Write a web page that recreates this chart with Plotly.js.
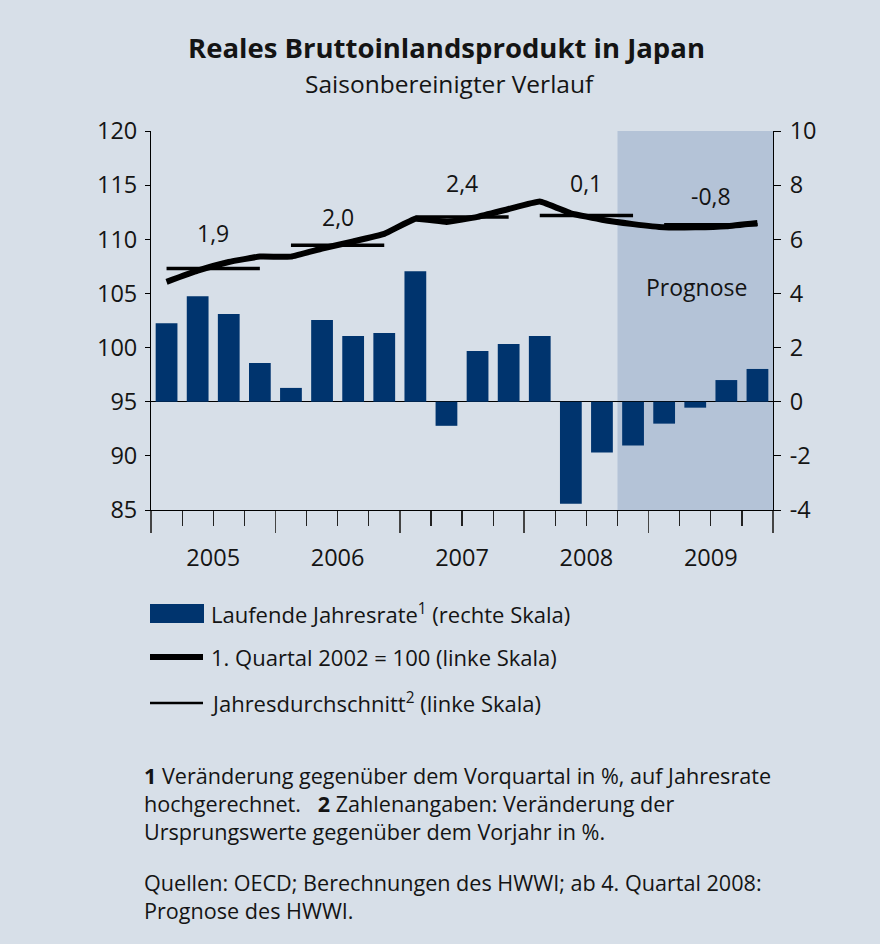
<!DOCTYPE html>
<html>
<head>
<meta charset="utf-8">
<script src="https://cdn.plot.ly/plotly-3.0.1.min.js"></script>
<style>html,body{margin:0;padding:0;background:#d7dfe8;}#chart{width:880px;height:944px;}</style>
</head>
<body>
<div id="chart"></div>
<script>
// ---- data ----
const years = ['2005', '2006', '2007', '2008', '2009'];
const quarterLabels = ['I/05','II/05','III/05','IV/05','I/06','II/06','III/06','IV/06',
  'I/07','II/07','III/07','IV/07','I/08','II/08','III/08','IV/08','I/09','II/09','III/09','IV/09'];
const annualRate = [2.9, 3.9, 3.24, 1.43, 0.51, 3.02, 2.43, 2.54, 4.82, -0.89,
  1.87, 2.13, 2.43, -3.77, -1.88, -1.62, -0.81, -0.22, 0.80, 1.21];
const indexLevel = [106.07, 107.1, 107.9, 108.4, 108.4, 109.15, 109.8, 110.5, 111.9, 111.6,
  112.07, 112.8, 113.5, 112.4, 111.8, 111.4, 111.1, 111.1, 111.2, 111.5];
const yearAverage = [107.3, 109.45, 112.05, 112.2, 111.35];
const yearGrowthLabels = ['1,9', '2,0', '2,4', '0,1', '-0,8'];
const yearLabelLevel = [110.6, 112.1, 115.2, 115.2, 114.0];
const rightTicks = [-4, -2, 0, 2, 4, 6, 8, 10];
const leftTicks = [85, 90, 95, 100, 105, 110, 115, 120];
const forecastStart = 15; // index of first forecast quarter (IV/2008)

// ---- helpers ----
const PL = 151, PR = 773, PT = 131, PB = 510;
const px = x => (x - PL) / (PR - PL);
const py = y => (PB - y) / (PB - PT);
const qx = quarterLabels.map((_, i) => i);
const FONT = 'Open Sans, Noto Sans, sans-serif';
const TXT = '#141414';

// ---- traces ----
const traces = [];
traces.push({
  type: 'bar', x: qx, y: annualRate, xaxis: 'x', yaxis: 'y',
  marker: {color: '#00346e'}, width: 0.7, hoverinfo: 'y', showlegend: false
});
const avgX = [], avgY = [];
years.forEach((yr, k) => {
  avgX.push(4 * k, 4 * k + 3, null);
  avgY.push(yearAverage[k], yearAverage[k], null);
});
traces.push({
  type: 'scatter', mode: 'lines', x: avgX, y: avgY, xaxis: 'x2', yaxis: 'y2',
  line: {color: '#000', width: 3.5}, connectgaps: false, showlegend: false
});
traces.push({
  type: 'scatter', mode: 'lines', x: qx, y: indexLevel, xaxis: 'x2', yaxis: 'y2',
  line: {color: '#000', width: 6, shape: 'spline', smoothing: 0.3}, showlegend: false
});

// ---- annotations ----
const ann = [];
years.forEach((yr, k) => {
  ann.push({xref: 'x2', yref: 'y2', x: 4 * k + 1.5, y: yearLabelLevel[k], text: yearGrowthLabels[k],
    showarrow: false, yanchor: 'middle', font: {family: FONT, size: 23, color: TXT}});
});
ann.push({xref: 'x2', yref: 'y2', x: 17.05, y: 105.6, text: 'Prognose', showarrow: false, yanchor: 'middle',
  font: {family: FONT, size: 23, color: TXT}});
ann.push({xref: 'paper', yref: 'paper', x: px(446), y: py(47), yanchor: 'middle',
  text: '<b>Reales Bruttoinlandsprodukt in Japan</b>',
  showarrow: false, font: {family: FONT, size: 27.5, color: TXT}});
ann.push({xref: 'paper', yref: 'paper', x: px(450), y: py(84), yanchor: 'middle', text: 'Saisonbereinigter Verlauf',
  showarrow: false, font: {family: FONT, size: 24.5, color: TXT}});
// legend
const legendItems = [
  {y: 613, text: 'Laufende Jahresrate<sup>1</sup> (rechte Skala)'},
  {y: 657, text: '1. Quartal 2002 = 100 (linke Skala)'},
  {y: 702, text: 'Jahresdurchschnitt<sup>2</sup> (linke Skala)'}
];
legendItems.forEach(it => ann.push({xref: 'paper', yref: 'paper', x: px(209), y: py(it.y), xanchor: 'left',
  yanchor: 'middle', text: it.text, showarrow: false, font: {family: FONT, size: 22, color: TXT}}));
// footnotes (two paragraphs)
const notes = [
  {y: 803, text: '<b>1</b> Veränderung gegenüber dem Vorquartal in %, auf Jahresrate<br>' +
    'hochgerechnet.\u00a0\u00a0\u00a0<b>2</b> Zahlenangaben: Veränderung der<br>' +
    'Ursprungswerte gegenüber dem Vorjahr in %.'},
  {y: 896, text: 'Quellen: OECD; Berechnungen des HWWI; ab 4. Quartal 2008:<br>Prognose des HWWI.'}
];
notes.forEach(it => ann.push({xref: 'paper', yref: 'paper', x: px(143), y: py(it.y), xanchor: 'left',
  yanchor: 'middle', align: 'left', borderpad: 0, text: it.text, showarrow: false,
  font: {family: FONT, size: 21.6, color: TXT}}));

// ---- shapes ----
const shapes = [
  {type: 'rect', xref: 'x', yref: 'paper', x0: forecastStart - 0.5, x1: quarterLabels.length - 0.5, y0: 0, y1: 1,
    fillcolor: '#b4c3d7', line: {width: 0}, layer: 'below'},
  {type: 'rect', xref: 'paper', yref: 'paper', x0: px(150), x1: px(204), y0: py(623), y1: py(604),
    fillcolor: '#00346e', line: {width: 0}},
  {type: 'line', xref: 'paper', yref: 'paper', x0: px(150), x1: px(203), y0: py(657), y1: py(657),
    line: {color: '#000', width: 6}},
  {type: 'line', xref: 'paper', yref: 'paper', x0: px(150), x1: px(203), y0: py(703), y1: py(703),
    line: {color: '#000', width: 2.5}}
];

const xr = [-0.5, quarterLabels.length - 0.5];
const yearBounds = years.map((_, k) => 4 * k - 0.5).concat([quarterLabels.length - 0.5]);
const yearCenters = years.map((_, k) => 4 * k + 1.5);

const layout = {
  width: 880, height: 944,
  margin: {l: PL, r: 880 - PR, t: PT, b: 944 - PB, pad: 0},
  paper_bgcolor: '#d7dfe8', plot_bgcolor: '#d7dfe8',
  showlegend: false,
  font: {family: FONT, color: TXT},
  xaxis: {
    range: xr, showgrid: false, zeroline: false, showline: true, linecolor: '#000', linewidth: 1,
    tickmode: 'array', tickvals: yearBounds, showticklabels: false,
    ticks: 'outside', ticklen: 22, tickcolor: '#444', tickwidth: 1.5,
    minor: {tick0: -0.5, dtick: 1, ticks: 'outside', ticklen: 15, tickcolor: '#222', tickwidth: 1.2, showgrid: false}
  },
  xaxis2: {
    range: xr, overlaying: 'x', anchor: 'y', side: 'bottom', showgrid: false, zeroline: false, showline: false,
    tickmode: 'array', tickvals: yearCenters, ticktext: years, ticks: 'outside', ticklen: 22,
    tickcolor: 'rgba(0,0,0,0)', ticklabelstandoff: 5, tickfont: {family: FONT, size: 23.5, color: TXT}
  },
  yaxis: {
    range: [-4, 10], side: 'right', showgrid: false,
    tickmode: 'array', tickvals: rightTicks, ticktext: rightTicks.map(v => String(v)),
    zeroline: true, zerolinecolor: '#000', zerolinewidth: 1.3,
    showline: true, linecolor: '#000', linewidth: 1, ticks: 'outside', ticklen: 7, tickcolor: '#000',
    tickfont: {family: FONT, size: 23.5, color: TXT}, ticklabelstandoff: 4
  },
  yaxis2: {
    range: [85, 120], overlaying: 'y', side: 'left', showgrid: false, zeroline: false,
    tickmode: 'array', tickvals: leftTicks, ticktext: leftTicks.map(v => String(v)),
    showline: true, linecolor: '#000', linewidth: 1, ticks: 'outside', ticklen: 5, tickcolor: '#000',
    tickfont: {family: FONT, size: 23.5, color: TXT}, ticklabelstandoff: 3
  },
  shapes: shapes,
  annotations: ann
};

Plotly.newPlot('chart', traces, layout, {displayModeBar: false, staticPlot: true});
</script>
</body>
</html>
